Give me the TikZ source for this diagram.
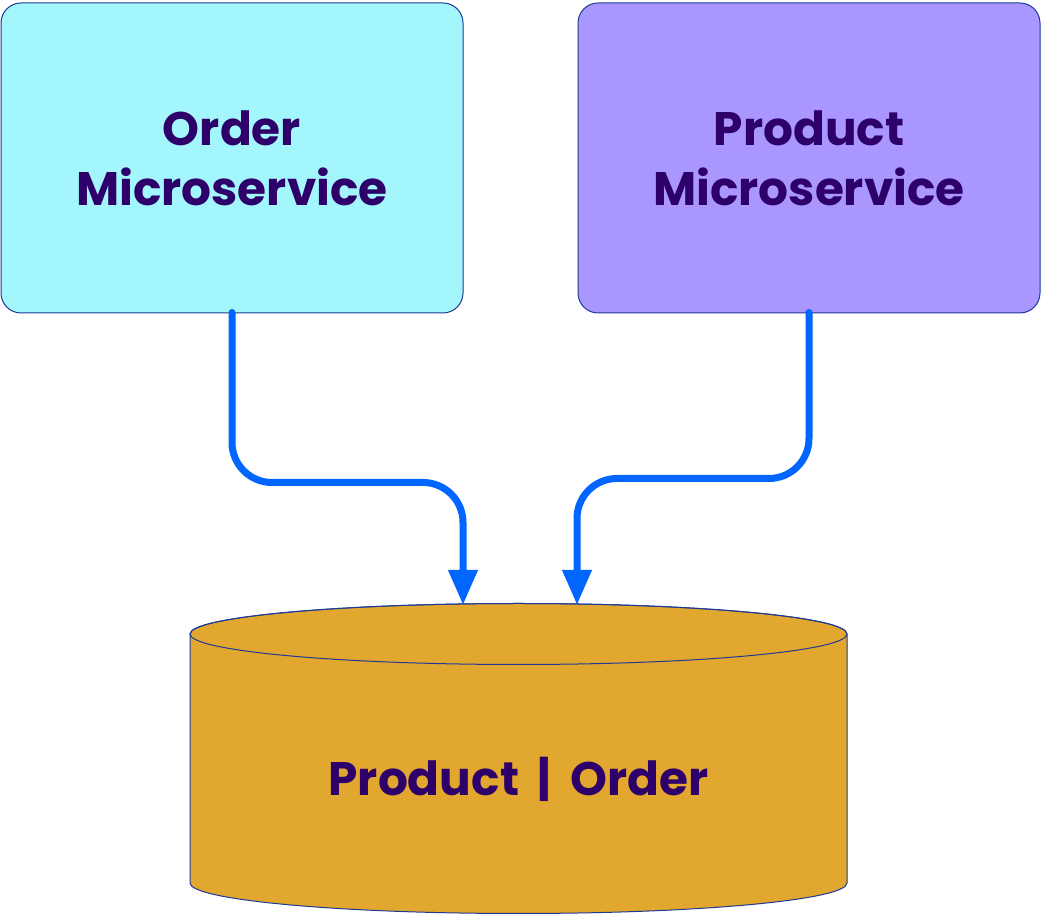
\documentclass[tikz,border=0pt]{standalone}
\usepackage{fontspec}
\setmainfont{Poppins}
\usetikzlibrary{arrows.meta}
\definecolor{cyanbox}{HTML}{A3F7FC}
\definecolor{purplebox}{HTML}{A996FE}
\definecolor{dbfill}{HTML}{E1A72F}
\definecolor{edgeblue}{HTML}{1E3A96}
\definecolor{txtpurple}{HTML}{2E0069}
\definecolor{arrowblue}{HTML}{0066FF}
\tikzset{
  svcbox/.style={draw=edgeblue, line width=1pt, rounded corners=20pt, minimum width=462pt, minimum height=310pt, inner sep=0pt, align=center, text=txtpurple, font=\bfseries\fontsize{47}{60}\selectfont},
  dblabel/.style={text=txtpurple, font=\bfseries\fontsize{47}{60}\selectfont},
  conn/.style={draw=arrowblue, line width=7pt, line cap=round, -{Triangle[length=35pt,width=28pt]}},
  roundbend/.style={rounded corners=40pt}
}
\begin{document}
\begin{tikzpicture}[x=1pt,y=1pt]
\useasboundingbox (0,0) rectangle (1041,915);
\node[svcbox, fill=cyanbox] (ord) at (232,757) {Order\\Microservice};
\node[svcbox, fill=purplebox] (prod) at (809,757) {Product\\Microservice};
% database cylinder
\path[fill=dbfill, draw=edgeblue, line width=1pt] (190,281) -- (190,32) arc[start angle=180, end angle=360, x radius=328.5, y radius=30.5] -- (847,281) arc[start angle=0, end angle=180, x radius=328.5, y radius=30.5] -- cycle;
\draw[edgeblue, line width=1pt] (518.5,281) ellipse[x radius=328.5, y radius=30.5];
\node[dblabel] (db) at (518.5,136) {Product\hspace{0.4em}|\hspace{0.4em}Order};
\coordinate (dbL) at (463,310);
\coordinate (dbR) at (577,310);
\draw[conn] (ord.south) ++(0,1) {[roundbend] -- ++(0,-170) -| (dbL)};
\draw[conn] (prod.south) ++(0,1) {[roundbend] -- ++(0,-166) -| (dbR)};
\end{tikzpicture}
\end{document}
